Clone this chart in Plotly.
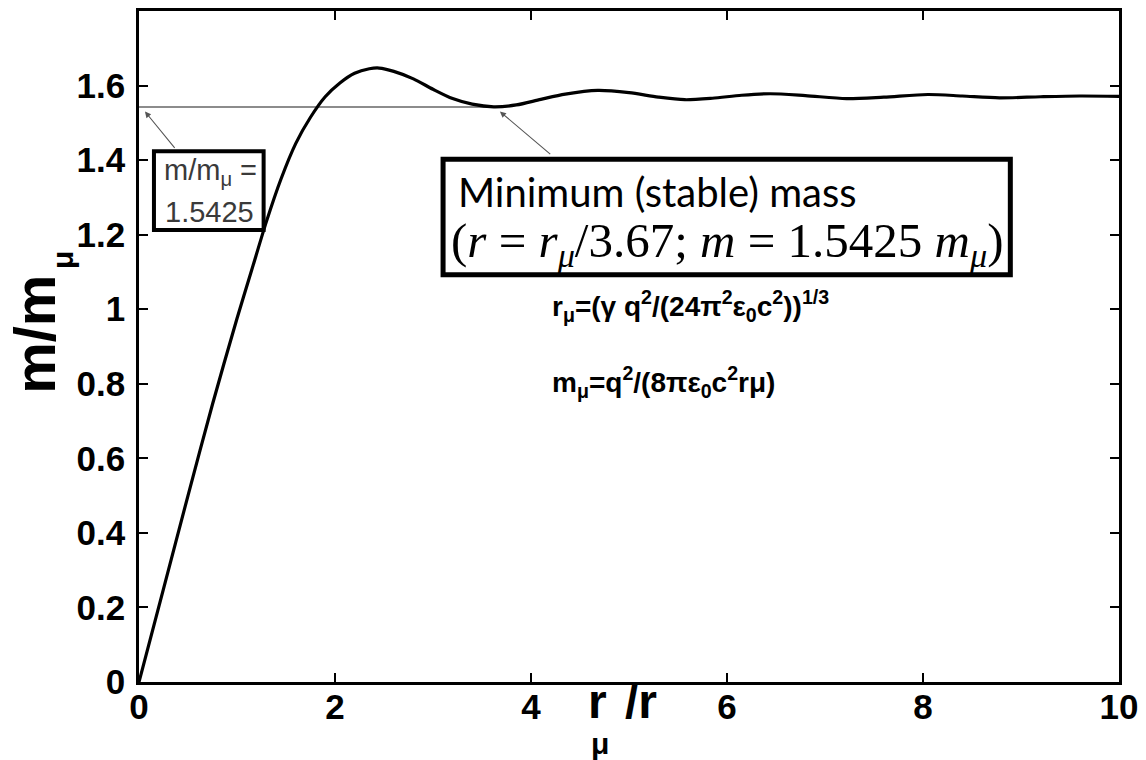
import plotly.graph_objects as go

# ---- data ----
ratio_x = [0, 0.25, 0.5, 0.75, 1.0, 1.15, 1.3, 1.45, 1.6, 1.75, 1.9, 2.05, 2.2, 2.35, 2.45,
           2.6, 2.8, 3.0, 3.2, 3.4, 3.62, 3.85, 4.1, 4.35, 4.68, 5.0, 5.3, 5.57, 5.85, 6.15,
           6.44, 6.8, 7.22, 7.6, 8.05, 8.4, 8.78, 9.2, 9.6, 10.0]
mass_y = [0, 0.25, 0.5, 0.745, 0.975, 1.105, 1.235, 1.35, 1.445, 1.515, 1.57, 1.607, 1.633,
          1.645, 1.647, 1.638, 1.618, 1.59, 1.565, 1.55, 1.543, 1.548, 1.563, 1.577, 1.587,
          1.581, 1.569, 1.562, 1.566, 1.574, 1.578, 1.573, 1.565, 1.569, 1.576, 1.572, 1.567,
          1.570, 1.572, 1.571]
ref_x = [0, 3.67]
ref_y = [1.5425, 1.5425]

x_ticks = [0, 2, 4, 6, 8, 10]
x_ticktext = ["0", "2", "4", "6", "8", "10"]
y_ticks = [0, 0.2, 0.4, 0.6, 0.8, 1.0, 1.2, 1.4, 1.6]
y_ticktext = ["0", "0.2", "0.4", "0.6", "0.8", "1", "1.2", "1.4", "1.6"]

# ---- layout geometry (pixels) ----
W, H = 1146, 760
L, R, T, B = 139, 1122, 8, 682
XMAX, YMAX = 10.0, 1.8


def dx(px):
    return (px - L) / (R - L) * XMAX


def dy(py):
    return (B - py) / (B - T) * YMAX


def px_(px):
    return (px - L) / (R - L)


def py_(py):
    return (B - py) / (B - T)


fig = go.Figure()
fig.add_trace(go.Scatter(x=ref_x, y=ref_y, mode="lines",
                         line=dict(color="#8c8c8c", width=2), hoverinfo="skip"))
fig.add_trace(go.Scatter(x=ratio_x, y=mass_y, mode="lines",
                         line=dict(color="black", width=3.2, shape="spline", smoothing=0.8)))

tickfont = dict(family="Liberation Sans", size=35, color="black", weight="bold")
axis_common = dict(showgrid=False, zeroline=False, showline=True, linecolor="black",
                   linewidth=2.5, mirror="ticks", ticks="inside", ticklen=9, tickwidth=2.2,
                   tickcolor="black", tickfont=tickfont)
fig.update_xaxes(range=[0, XMAX], tickvals=x_ticks, ticktext=x_ticktext,
                 ticklabelstandoff=-8, **axis_common)
fig.update_yaxes(range=[0, YMAX], tickvals=y_ticks, ticktext=y_ticktext,
                 ticklabelstandoff=4, **axis_common)

ann = []
boldf = lambda s: dict(family="Liberation Sans", size=s, color="black", weight="bold")

# y-axis title  m/m_mu
ann.append(dict(xref="paper", yref="paper", x=px_(34), y=py_(333), text="m/m",
                textangle=-90, showarrow=False, font=boldf(58),
                xanchor="center", yanchor="middle"))
ann.append(dict(xref="paper", yref="paper", x=px_(63), y=py_(258), text="μ",
                textangle=-90, showarrow=False, font=boldf(30),
                xanchor="center", yanchor="middle"))
# x-axis title r_mu / r
ann.append(dict(xref="paper", yref="paper", x=px_(599), y=py_(702), text="r",
                showarrow=False, font=boldf(48), xanchor="center", yanchor="middle"))
ann.append(dict(xref="paper", yref="paper", x=px_(643), y=py_(702), text="/r",
                showarrow=False, font=boldf(48), xanchor="center", yanchor="middle"))
ann.append(dict(xref="paper", yref="paper", x=px_(601), y=py_(744), text="μ",
                showarrow=False, font=boldf(30), xanchor="center", yanchor="middle"))

# formulas
ann.append(dict(xref="paper", yref="paper", x=px_(551), y=py_(304),
                text="r<sub>μ</sub>=(γ q<sup>2</sup>/(24π<sup>2</sup>ε<sub>0</sub>c<sup>2</sup>))<sup>1/3</sup>",
                showarrow=False, font=boldf(28), xanchor="left", yanchor="middle"))
ann.append(dict(xref="paper", yref="paper", x=px_(551), y=py_(381),
                text="m<sub>μ</sub>=q<sup>2</sup>/(8πε<sub>0</sub>c<sup>2</sup>rμ)",
                showarrow=False, font=boldf(28), xanchor="left", yanchor="middle"))

# box 1 text
regf = dict(family="Liberation Sans", size=29, color="#3a3a3a")
ann.append(dict(xref="paper", yref="paper", x=px_(162), y=py_(170),
                text="m/m<sub>μ</sub> =", showarrow=False, font=regf,
                xanchor="left", yanchor="middle"))
ann.append(dict(xref="paper", yref="paper", x=px_(163), y=py_(210),
                text="1.5425", showarrow=False, font=regf,
                xanchor="left", yanchor="middle"))

# box 2 text
ann.append(dict(xref="paper", yref="paper", x=px_(457), y=py_(190),
                text="Minimum (stable) mass", showarrow=False,
                font=dict(family="Lato", size=40, color="black"),
                xanchor="left", yanchor="middle"))
ann.append(dict(xref="paper", yref="paper", x=px_(450), y=py_(242),
                text="(<i>r</i> = <i>r</i><sub><i>μ</i></sub>/3.67; <i>m</i> = 1.5425 <i>m</i><sub><i>μ</i></sub>)",
                showarrow=False,
                font=dict(family="Liberation Serif", size=49, color="black"),
                xanchor="left", yanchor="middle"))

# arrows
for (hx, hy, tx, ty) in [(145, 109, 176, 147), (501, 109, 553, 153)]:
    ann.append(dict(xref="x", yref="y", x=dx(hx), y=dy(hy),
                    axref="x", ayref="y", ax=dx(tx), ay=dy(ty), text="",
                    showarrow=True, arrowhead=2, arrowsize=1.1, arrowwidth=1.1,
                    arrowcolor="#555555", standoff=0, startstandoff=0))

fig.update_layout(annotations=ann)

# boxes
fig.add_shape(type="rect", xref="x", yref="y", x0=dx(154), x1=dx(264), y0=dy(149), y1=dy(228),
              line=dict(color="black", width=4), fillcolor="rgba(0,0,0,0)", layer="above")
fig.add_shape(type="rect", xref="x", yref="y", x0=dx(444), x1=dx(1013), y0=dy(157), y1=dy(273),
              line=dict(color="black", width=5), fillcolor="white", layer="above")

fig.update_layout(width=W, height=H, margin=dict(l=L, r=W - R, t=T, b=H - B),
                  paper_bgcolor="white", plot_bgcolor="white", showlegend=False)
fig.write_html("out.html")
